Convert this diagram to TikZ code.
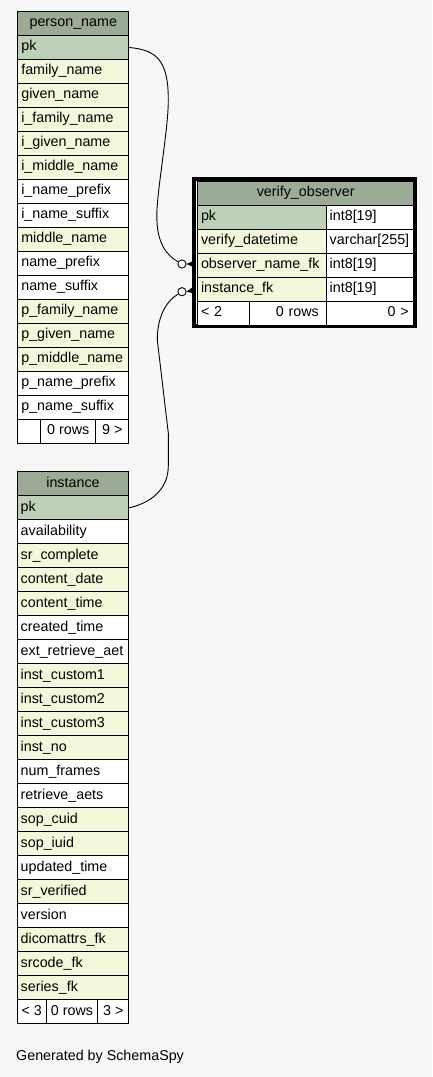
\documentclass[tikz,border=0pt]{standalone}
\usepackage{fontspec}
\setmainfont{Liberation Sans}
\usepackage{xcolor}
\usepackage{tikz}
\definecolor{headgreen}{HTML}{9BAB96}
\definecolor{keygreen}{HTML}{BED1B8}
\definecolor{idxyellow}{HTML}{F4F7DA}
\definecolor{pagegray}{HTML}{F7F7F7}
\tikzset{
  cell/.style={draw=black, line width=1pt, anchor=north west, inner ysep=0pt,
    minimum height=24pt, text height=10pt, text depth=3.5pt,
    font=\fontsize{14.3}{16}\selectfont},
  colcell/.style={cell, inner xsep=3.5pt, align=left, text width=#1},
  headcell/.style={cell, fill=headgreen, inner xsep=0pt, minimum width=#1},
  footcell/.style={cell, fill=white, inner xsep=0pt, minimum width=#1},
  ringdot/.style={circle, draw=black, fill=white, line width=0.9pt,
    minimum size=8.2pt, inner sep=0pt},
  link/.style={draw=black, line width=0.9pt}
}

\begin{document}
\begin{tikzpicture}[x=1pt,y=-1pt]
\fill[pagegray] (0,0) rectangle (432,1077);
\useasboundingbox (0,0) rectangle (432,1077);

% person_name table
\node[headcell=111pt] (pn-h) at (17.3,11) {person\_name};
\foreach \txt/\clr [count=\i] in {pk/keygreen, family\_name/idxyellow,
  given\_name/idxyellow, i\_family\_name/idxyellow, i\_given\_name/idxyellow,
  i\_middle\_name/idxyellow, i\_name\_prefix/white, i\_name\_suffix/white,
  middle\_name/idxyellow, name\_prefix/white, name\_suffix/white,
  p\_family\_name/idxyellow, p\_given\_name/idxyellow, p\_middle\_name/idxyellow,
  p\_name\_prefix/white, p\_name\_suffix/white}
\node[colcell=104pt, fill=\clr] (pn-\i) at (17.3,11+24*\i) {\txt};
\node[footcell=23pt] (pn-f1) at (17.3,419) {};
\node[footcell=55pt] (pn-f2) at (40.3,419) {0 rows};
\node[footcell=33pt] (pn-f3) at (95.3,419) {9 >};

% instance table
\node[headcell=111.6pt] (in-h) at (16.7,471.3) {instance};
\foreach \txt/\clr [count=\i] in {pk/keygreen, availability/white,
  sr\_complete/idxyellow, content\_date/idxyellow, content\_time/idxyellow,
  created\_time/white, ext\_retrieve\_aet/white, inst\_custom1/idxyellow,
  inst\_custom2/idxyellow, inst\_custom3/idxyellow, inst\_no/idxyellow,
  num\_frames/white, retrieve\_aets/white, sop\_cuid/idxyellow,
  sop\_iuid/idxyellow, updated\_time/white, sr\_verified/idxyellow,
  version/white, dicomattrs\_fk/idxyellow, srcode\_fk/idxyellow,
  series\_fk/idxyellow}
\node[colcell=104.6pt, fill=\clr] (in-\i) at (16.7,471.3+24*\i) {\txt};
\node[footcell=29pt] (in-f1) at (16.7,999.3) {< 3};
\node[footcell=51.6pt] (in-f2) at (45.7,999.3) {0 rows};
\node[footcell=31pt] (in-f3) at (97.3,999.3) {3 >};

% verify_observer table
\draw[line width=3.7pt, fill=white] (194.3,179.3) rectangle (415,326.2);
\node[headcell=216.3pt] (vo-h) at (197,181) {verify\_observer};
\foreach \txt/\clr/\typ [count=\i] in {pk/keygreen/int8[19],
  verify\_datetime/idxyellow/varchar[255],
  observer\_name\_fk/idxyellow/int8[19], instance\_fk/idxyellow/int8[19]}
{
\node[colcell=121.7pt, fill=\clr] (vo-\i) at (197,181+24*\i) {\txt};
\node[colcell=80.6pt, fill=white] (vo-t\i) at (325.7,181+24*\i) {\typ};
}
\node[colcell=45.3pt, fill=white] (vo-f1) at (197,301) {< 2};
\node[colcell=61.6pt, fill=white, inner xsep=7.4pt, align=right] (vo-f2) at (249.3,301) {0 rows};
\node[colcell=77.6pt, fill=white, inner xsep=5pt, align=right] (vo-f3) at (325.7,301) {0 >};

% foreign keys
\node[ringdot] (obs-dot) at (182,264) {};
\node[ringdot] (inst-dot) at (182,291.7) {};
\fill (obs-dot.east) -- ++(7,-3.2) -- ++(0,6.4) -- cycle;
\fill (inst-dot.east) -- ++(7,-5.2) -- ++(0,6.8) -- cycle;
\draw[link] (pn-1.east) .. controls (158,50) and (168.3,62) .. (168.3,100)
  .. controls (168.3,130) and (157,190) .. (156.8,215)
  .. controls (156.5,245) and (168,256) .. (obs-dot);
\draw[link] (inst-dot) .. controls (165,302) and (157.3,318) .. (157.3,340)
  -- (168.3,433) -- (168.3,466)
  .. controls (168.3,490) and (150,503) .. (in-1.east);

\node[anchor=west, inner sep=0pt, font=\fontsize{14.3}{16}\selectfont] (credit) at (16,1057) {Generated by SchemaSpy};
\end{tikzpicture}
\end{document}
